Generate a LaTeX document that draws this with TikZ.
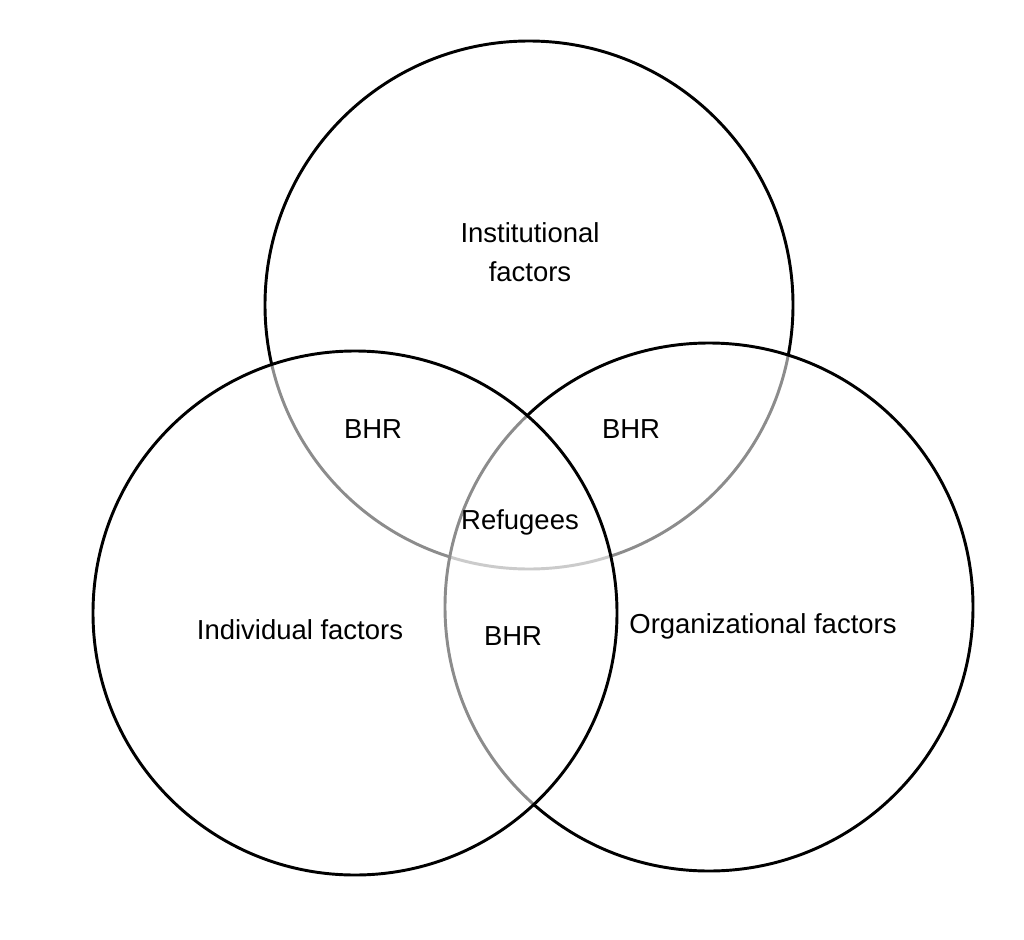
\documentclass[tikz,border=0pt]{standalone}
\usepackage{fontspec}
\setmainfont{Liberation Sans}
\begin{document}
\begin{tikzpicture}[x=0.75pt,y=-0.75pt,
  setcircle/.style={circle, draw=black, line width=2.2pt, inner sep=0pt, outer sep=0pt},
  overlay/.style={setcircle, fill=white, fill opacity=0.55},
  lbl/.style={font=\fontsize{20.6}{29.5}\selectfont, inner sep=0pt, anchor=base, align=center}]
\useasboundingbox (0,0) rectangle (1024,939);
\fill[white] (0,0) rectangle (1024,939);
\node[setcircle, minimum size=528*0.75pt] (inst) at (529,305) {};
\node[overlay, minimum size=528*0.75pt] (org) at (709,607) {};
\node[overlay, minimum size=524*0.75pt] (indiv) at (355,613) {};
\node[lbl] (tinst) at (530,242) {Institutional};
\node[lbl] (tinst2) at (530,281) {factors};
\node[lbl] (bhr1) at (373,438) {BHR};
\node[lbl] (bhr2) at (631,438) {BHR};
\node[lbl] (ref) at (520,529) {Refugees};
\node[lbl] (bhr3) at (513,645) {BHR};
\node[lbl] (tind) at (300,639) {Individual factors};
\node[lbl] (torg) at (763,633) {Organizational factors};
\end{tikzpicture}
\end{document}
